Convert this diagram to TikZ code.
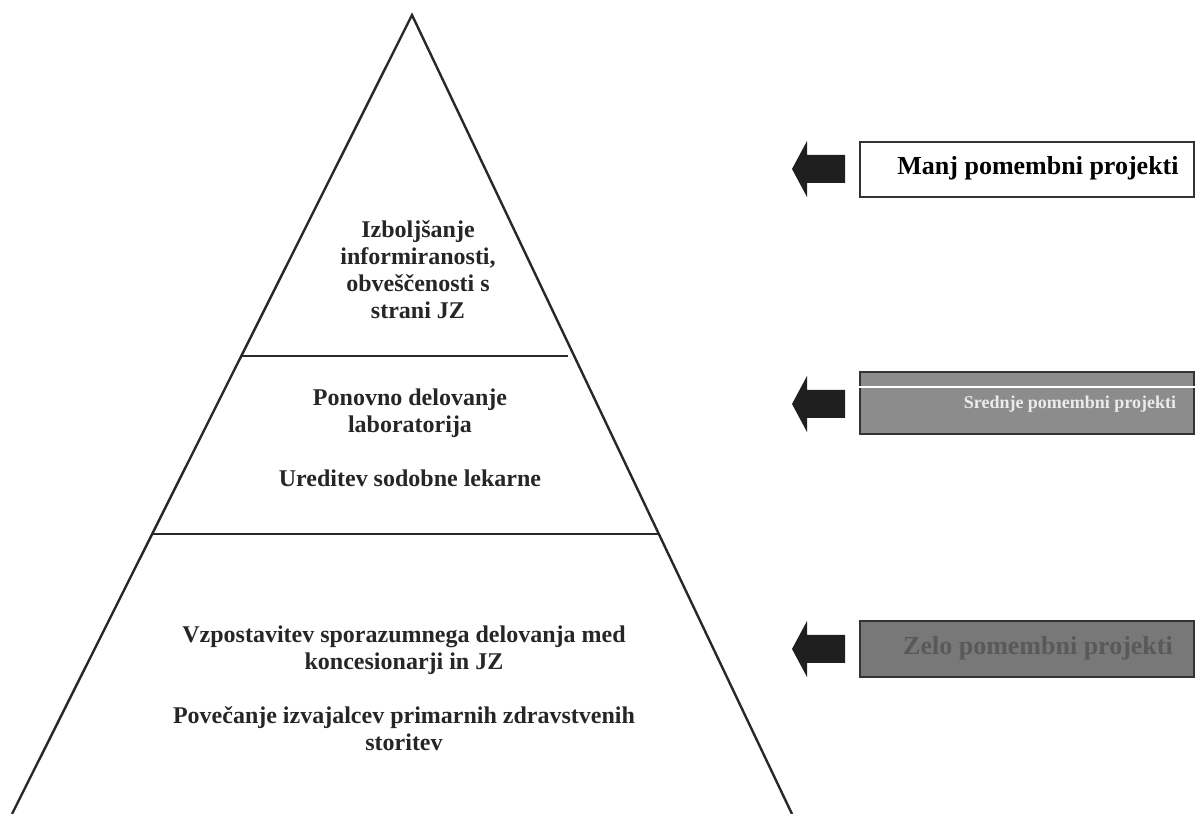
\documentclass[tikz,border=0pt]{standalone}
\usepackage{fontspec}
\setmainfont{Liberation Serif}
\usetikzlibrary{positioning}
\definecolor{pyrline}{RGB}{40,40,40}
\definecolor{srednjegray}{RGB}{140,140,140}
\definecolor{zelogray}{RGB}{120,120,120}

\begin{document}
\begin{tikzpicture}[x=0.5pt,y=0.5pt,
    level/.style={font=\bfseries\fontsize{12}{13.5}\selectfont,align=center,text=black!85},
    prio/.style={draw=black!80,line width=1pt,minimum width=167pt,inner sep=0pt},
    priotext/.style={font=\bfseries\fontsize{13}{15}\selectfont,inner sep=1pt}]
    \useasboundingbox (0,0) rectangle (1195,814);
    % pyramid
    \coordinate (apex) at (412,799);
    \coordinate (bl) at (12,0);
    \coordinate (br) at (792,0);
    \draw[line width=1.2pt,pyrline] (bl) -- (apex) -- (br);
    \draw[line width=1.2pt,pyrline] (240,458) -- (568,458);
    \draw[line width=1.2pt,pyrline] (152,280) -- (660,280);
    \node[level] (vrh) at (418,544) {Izboljšanje\\informiranosti,\\obveščenosti s\\strani JZ};
    \node[level] (sredina) at (410,376) {Ponovno delovanje\\laboratorija\\[13.5pt]Ureditev sodobne lekarne};
    \node[level] (dno) at (404,126) {Vzpostavitev sporazumnega delovanja med\\koncesionarji in JZ\\[13.5pt]Povečanje izvajalcev primarnih zdravstvenih\\storitev};
    % block arrows
    \foreach \c in {645,410,165}
      \fill[black!88] (792,\c) -- (807,\c+28) -- (807,\c+14) -- (845,\c+14)
        -- (845,\c-14) -- (807,\c-14) -- (807,\c-28) -- cycle;
    % priority boxes
    \node[prio,minimum height=27.5pt,fill=white] (manj) at (1027,644.5) {};
    \node[priotext] (manjtxt) at (1038,646) {Manj pomembni projekti};
    \node[prio,minimum height=31pt,fill=srednjegray] (srednje) at (1027,411) {};
    \draw[white,line width=1pt] ([yshift=-8pt]srednje.north west) -- ([yshift=-8pt]srednje.north east);
    \node[font=\bfseries\fontsize{9}{11}\selectfont,text=white!92!black] (srednjetxt) at (1070,410) {Srednje pomembni projekti};
    \node[prio,minimum height=28pt,fill=zelogray] (zelo) at (1027,165) {};
    \node[priotext,text=black!65] (zelotxt) at (1038,166) {Zelo pomembni projekti};
\end{tikzpicture}
\end{document}
